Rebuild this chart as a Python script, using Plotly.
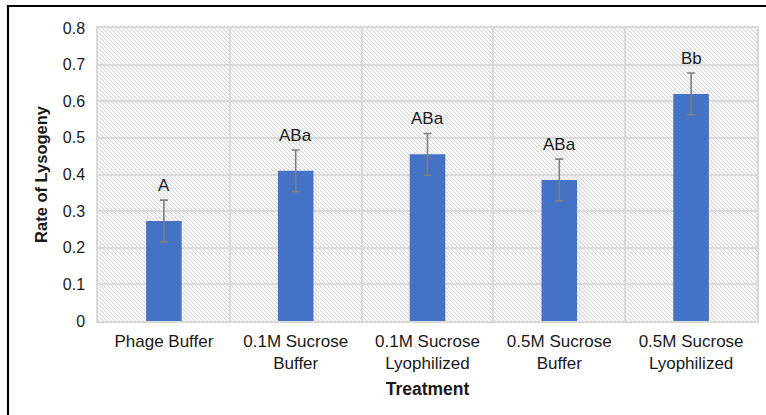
import base64
import struct
import zlib
import plotly.graph_objects as go

categories = ["Phage Buffer", "0.1M Sucrose<br>Buffer", "0.1M Sucrose<br>Lyophilized",
              "0.5M Sucrose<br>Buffer", "0.5M Sucrose<br>Lyophilized"]
values = [0.273, 0.410, 0.455, 0.385, 0.620]
errors = [0.057, 0.057, 0.057, 0.057, 0.057]
letters = ["A", "ABa", "ABa", "ABa", "Bb"]
y_ticks = [0, 0.1, 0.2, 0.3, 0.4, 0.5, 0.6, 0.7, 0.8]
y_ticktext = ["0", "0.1", "0.2", "0.3", "0.4", "0.5", "0.6", "0.7", "0.8"]

FONT = "Liberation Sans, Arial, sans-serif"
TXT = "#1a1a1a"
GRID = "#d9d9d9"

L, R, T, B = 98, 9, 28, 94
W, H = 766, 415
pw, ph = W - L - R, H - T - B


def hatch_png(w, h, period=4):
    rows = []
    for y in range(h):
        row = bytearray([0])
        for x in range(w):
            k = (x - y) % period
            if k == 0:
                c = 214
            elif k == 1:
                c = 238
            else:
                c = 255
            row += bytes((c, c, c))
        rows.append(bytes(row))
    raw = b"".join(rows)

    def chunk(tag, data):
        return (struct.pack(">I", len(data)) + tag + data +
                struct.pack(">I", zlib.crc32(tag + data) & 0xffffffff))

    png = b"\x89PNG\r\n\x1a\n"
    png += chunk(b"IHDR", struct.pack(">IIBBBBB", w, h, 8, 2, 0, 0, 0))
    png += chunk(b"IDAT", zlib.compress(raw, 9))
    png += chunk(b"IEND", b"")
    return "data:image/png;base64," + base64.b64encode(png).decode()


uri = hatch_png(pw, ph)

fig = go.Figure()
fig.add_trace(go.Bar(
    x=categories, y=values,
    marker=dict(color="#4472C4", line=dict(width=0)),
    error_y=dict(type="data", array=errors, visible=True,
                 color="#7f7f7f", thickness=1.6, width=4),
    width=0.27, showlegend=False, hoverinfo="skip",
))

annotations = [
    dict(x=c, y=v + e, xref="x", yref="y", text=t, showarrow=False,
         yanchor="bottom", yshift=3,
         font=dict(family=FONT, size=17, color=TXT))
    for c, v, e, t in zip(categories, values, errors, letters)
]

fig.update_layout(
    width=W, height=H,
    margin=dict(l=L, r=R, t=T, b=B, autoexpand=False),
    paper_bgcolor="white", plot_bgcolor="white",
    font=dict(family=FONT, color=TXT, size=16),
    annotations=annotations,
    images=[dict(source=uri, xref="paper", yref="paper", x=0, y=1,
                 sizex=1, sizey=1, sizing="stretch", layer="below",
                 xanchor="left", yanchor="top")],
    shapes=[dict(type="rect", xref="paper", yref="paper",
                 x0=(8 - L) / pw, x1=(W + 20 - L) / pw,
                 y0=-(H + 20 - T - ph) / ph, y1=1 + (T - 6) / ph,
                 line=dict(color="black", width=2.2), fillcolor="rgba(0,0,0,0)",
                 layer="above")],
)
fig.update_xaxes(
    type="category", tickson="boundaries", showgrid=True, gridcolor=GRID, gridwidth=1.5,
    showline=True, linecolor=GRID, linewidth=1.5, mirror=True,
    ticks="", ticklabelstandoff=4, tickfont=dict(family=FONT, size=17, color=TXT),
    title=dict(text="<b>Treatment</b>", font=dict(family=FONT, size=17.5, color=TXT), standoff=10),
    range=[-0.5, 4.5],
)
fig.update_yaxes(
    range=[0, 0.8], tickvals=y_ticks, ticktext=y_ticktext,
    showgrid=True, gridcolor=GRID, gridwidth=1.5, zeroline=False,
    showline=True, linecolor=GRID, linewidth=1.5, mirror=True,
    ticks="", ticklabelstandoff=8, tickfont=dict(family=FONT, size=16, color=TXT),
    title=dict(text="<b>Rate of Lysogeny</b>", font=dict(family=FONT, size=16.5, color=TXT), standoff=11),
)
fig.write_html("out.html", config={"displayModeBar": False},
               post_script="document.body.style.margin='0';")
